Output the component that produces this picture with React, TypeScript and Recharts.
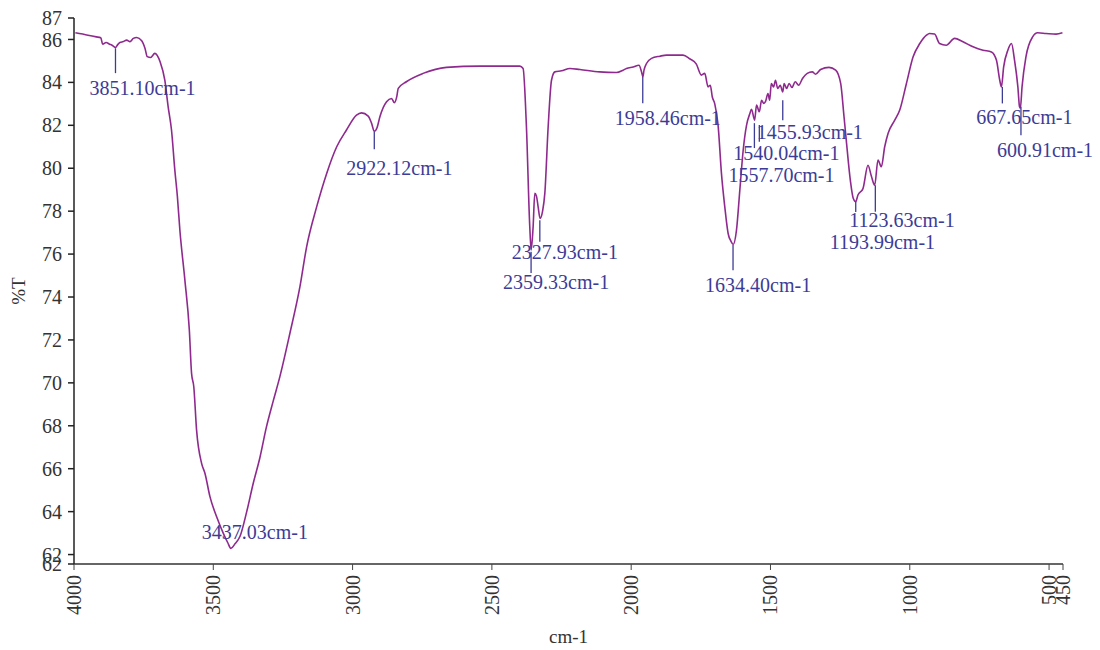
import { LineChart, Line, XAxis, YAxis, ReferenceLine } from 'recharts'

// spectrum (wavenumber in cm-1, transmittance in %T)
const WAVENUMBERS = [
  3995, 3950, 3920, 3904, 3897, 3885, 3872, 3862, 3851, 3843, 3835, 3823, 3811, 3799, 3787, 3775,
  3757, 3745, 3737, 3725, 3710, 3691, 3674, 3662, 3650, 3638, 3629, 3620, 3602, 3586, 3578, 3570,
  3560, 3542, 3530, 3512, 3488, 3464, 3448, 3437, 3422, 3404, 3380, 3357, 3333, 3309, 3285, 3261,
  3225, 3189, 3165, 3129, 3093, 3057, 3022, 2986, 2968, 2944, 2932, 2922, 2912, 2902, 2878, 2860,
  2850, 2842, 2836, 2807, 2747, 2663, 2543, 2400, 2388, 2376, 2364, 2359, 2352, 2346, 2340, 2334,
  2327, 2318, 2310, 2298, 2286, 2274, 2250, 2220, 2184, 2113, 2053, 2029, 2017, 1993, 1972, 1963,
  1958, 1954, 1945, 1927, 1897, 1873, 1838, 1814, 1790, 1766, 1748, 1736, 1724, 1716, 1709, 1700,
  1688, 1676, 1664, 1652, 1642, 1634, 1622, 1610, 1598, 1586, 1574, 1568, 1557, 1550, 1540, 1532,
  1524, 1518, 1509, 1503, 1497, 1489, 1482, 1474, 1465, 1456, 1451, 1442, 1433, 1423, 1411, 1399,
  1385, 1368, 1350, 1338, 1320, 1290, 1266, 1248, 1236, 1228, 1213, 1203, 1194, 1186, 1168, 1150,
  1138, 1126, 1114, 1102, 1090, 1078, 1054, 1036, 1012, 988, 964, 940, 929, 911, 893, 869,
  839, 809, 773, 737, 707, 689, 677, 671, 663, 648, 635, 624, 612, 606, 603, 597,
  583, 559, 541, 511, 475, 452,
]
const TRANSMITTANCE = [
  86.31, 86.2, 86.12, 86.08, 85.78, 85.86, 85.78, 85.72, 85.62, 85.76, 85.86, 85.9, 85.97, 85.9, 86.05, 86.09,
  85.94, 85.58, 85.2, 85.16, 85.35, 84.96, 84.1, 82.86, 81.78, 79.9, 78.7, 77.12, 74.79, 72.46, 70.44, 69.82,
  67.8, 66.25, 65.79, 64.7, 63.76, 62.99, 62.55, 62.29, 62.5, 62.85, 64.0, 65.3, 66.5, 67.96, 69.15, 70.29,
  72.31, 74.48, 76.34, 78.2, 79.76, 81.0, 81.78, 82.47, 82.58, 82.43, 82.1, 81.72, 81.9, 82.4, 83.1, 83.25,
  83.05, 83.3, 83.72, 84.03, 84.42, 84.7, 84.76, 84.76, 84.65, 81.93, 77.27, 76.19, 77.27, 78.83, 78.7, 78.2,
  77.66, 78.0, 78.83, 81.93, 84.1, 84.49, 84.54, 84.65, 84.6, 84.49, 84.46, 84.57, 84.65, 84.72, 84.8, 84.5,
  84.26, 84.57, 84.88, 85.12, 85.22, 85.27, 85.27, 85.27, 85.1, 84.85, 84.34, 84.42, 83.79, 83.87, 83.33, 83.0,
  82.0, 79.76, 78.2, 76.96, 76.6, 76.45, 77.12, 78.98, 80.84, 82.0, 82.55, 82.75, 82.24, 82.94, 82.63, 83.17,
  83.02, 83.1, 83.48, 83.17, 83.95, 83.79, 84.1, 83.72, 83.87, 83.56, 83.95, 83.72, 83.95, 83.76, 84.03, 83.87,
  84.18, 84.42, 84.49, 84.38, 84.6, 84.7, 84.57, 83.95, 82.4, 81.31, 79.4, 78.6, 78.44, 78.75, 79.05, 80.14,
  79.64, 79.21, 80.38, 80.07, 81.0, 81.62, 82.24, 82.71, 83.95, 85.19, 85.81, 86.2, 86.28, 86.25, 85.81, 85.73,
  86.05, 85.89, 85.66, 85.5, 85.42, 85.04, 84.1, 83.79, 84.72, 85.5, 85.81, 85.04, 83.79, 82.86, 82.8, 83.79,
  85.19, 86.12, 86.31, 86.28, 86.25, 86.31,
]

const X_TICKS = [4000, 3500, 3000, 2500, 2000, 1500, 1000, 500, 450]
const Y_MIN = 61.56
const Y_MAX = 87
const Y_TICKS = [Y_MIN, 62, 64, 66, 68, 70, 72, 74, 76, 78, 80, 82, 84, 86, Y_MAX]

// labelled peaks
const PEAKS = [3851.10, 3437.03, 2922.12, 2359.33, 2327.93, 1958.46, 1634.40, 1557.70, 1540.04, 1455.93, 1193.99, 1123.63, 667.65, 600.91]
const PEAK_LABELS = PEAKS.map(p => `${p.toFixed(2)}cm-1`)

// marker tick top/bottom (in %T) and text offset from the tick's lower end (px)
const PEAK_LAYOUT = [
  { top: 85.59, bottom: 84.43, dx: -26, dy: 15 },
  { top: 62.3, bottom: 62.3, dx: -29, dy: -16 },
  { top: 81.7, bottom: 80.89, dx: -28, dy: 19 },
  { top: 76.11, bottom: 75.12, dx: -28, dy: 9 },
  { top: 77.58, bottom: 76.57, dx: -28, dy: 10 },
  { top: 84.26, bottom: 83.03, dx: -28, dy: 15 },
  { top: 76.42, bottom: 75.25, dx: -28, dy: 15 },
  { top: 82.1, bottom: 80.94, dx: -26, dy: 27 },
  { top: 82.01, bottom: 81.23, dx: -26, dy: 11 },
  { top: 83.17, bottom: 82.24, dx: -26, dy: 12 },
  { top: 78.44, bottom: 77.96, dx: -26, dy: 30 },
  { top: 79.21, bottom: 77.97, dx: -26, dy: 8 },
  { top: 83.79, bottom: 83.02, dx: -26, dy: 14 },
  { top: 82.86, bottom: 81.54, dx: -24, dy: 15 },
]

const data = WAVENUMBERS.map((wn, i) => ({ wn, t: TRANSMITTANCE[i] }))

const FONT = '"Liberation Serif", "Times New Roman", serif'
const LINE_COLOR = '#8E2A8E'
const PEAK_COLOR = '#3C3C96'

function XTick({ x, y, payload }: any) {
  const ty = y + 3
  return (
    <text x={x} y={ty} transform={`rotate(-90 ${x} ${ty})`} textAnchor="end" dominantBaseline="central"
      fontFamily={FONT} fontSize={20} fill="#333">
      {payload.value}
    </text>
  )
}

function peakLabel(text: string, dx: number, dy: number) {
  return ({ viewBox }: any) => {
    if (!viewBox) return null
    return (
      <text x={viewBox.x + dx} y={viewBox.y + viewBox.height + dy} dominantBaseline="central"
        fontFamily={FONT} fontSize={20} fill={PEAK_COLOR}>
        {text}
      </text>
    )
  }
}

export default function App() {
  return (
    <div style={{ position: 'absolute', left: 0, top: 0, width: 1100, height: 650, background: '#fff' }}>
      <LineChart width={1100} height={650} data={data} margin={{ top: 18, right: 37, left: 0, bottom: 0 }}>
        <XAxis
          type="number" dataKey="wn" domain={[450, 4000]} reversed ticks={X_TICKS} interval={0}
          height={86} tick={<XTick />} tickSize={6} stroke="#666" strokeWidth={2}
          tickLine={{ stroke: '#444', strokeWidth: 1 }} allowDataOverflow
          label={{
            content: ({ viewBox }: any) => (
              <text x={viewBox.x + viewBox.width / 2} y={viewBox.y + 72} textAnchor="middle"
                dominantBaseline="central" fontFamily={FONT} fontSize={19} fill="#333">cm-1</text>
            ),
          }}
        />
        <YAxis
          type="number" domain={[Y_MIN, Y_MAX]} ticks={Y_TICKS} interval={0} width={74}
          tickFormatter={(v: number) => String(Math.round(v))} tickSize={6} tickMargin={6}
          tick={{ fontFamily: FONT, fontSize: 20, fill: '#333' }}
          stroke="#222" strokeWidth={1.5} tickLine={{ stroke: '#222', strokeWidth: 1.5 }} allowDataOverflow
          label={{
            content: ({ viewBox }: any) => (
              <text x={18} y={viewBox.y + viewBox.height / 2} transform={`rotate(-90 18 ${viewBox.y + viewBox.height / 2})`}
                textAnchor="middle" dominantBaseline="central" fontFamily={FONT} fontSize={19} fill="#333">%T</text>
            ),
          }}
        />
        <Line type="monotone" dataKey="t" stroke={LINE_COLOR} strokeWidth={1.6} dot={false} isAnimationActive={false} />
        {PEAKS.map((p, i) => {
          const l = PEAK_LAYOUT[i]
          return (
            <ReferenceLine key={p}
              segment={[{ x: p, y: l.top }, { x: p, y: l.bottom }]}
              stroke={PEAK_COLOR} strokeWidth={1.3} strokeOpacity={l.top === l.bottom ? 0 : 1}
              ifOverflow="visible"
              label={peakLabel(PEAK_LABELS[i], l.dx, l.dy)}
            />
          )
        })}
      </LineChart>
    </div>
  )
}
